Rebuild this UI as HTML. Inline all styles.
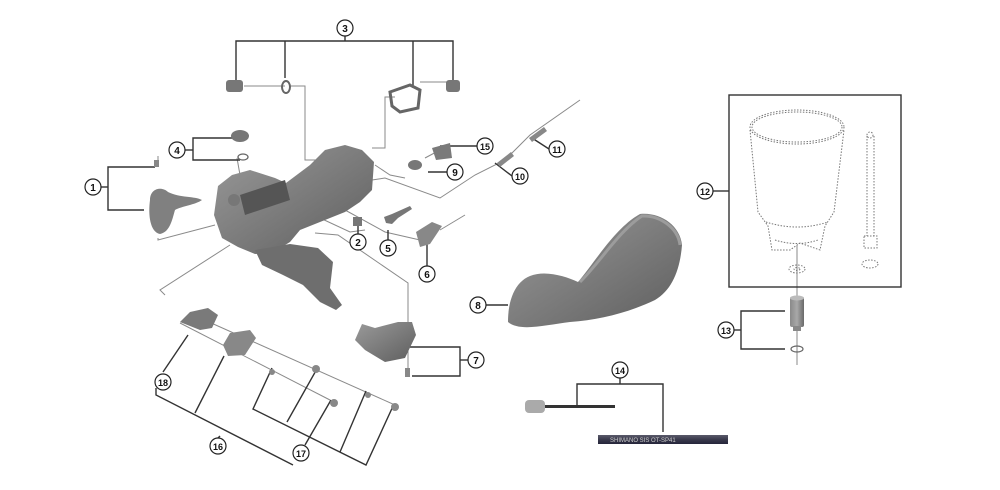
<!DOCTYPE html>
<html><head><meta charset="utf-8"><style>
html,body{margin:0;padding:0;background:#fff;}
svg{display:block;font-family:"Liberation Sans",sans-serif;}
</style></head><body>
<svg width="1000" height="490" viewBox="0 0 1000 490" xmlns="http://www.w3.org/2000/svg">
<defs>
<linearGradient id="g1" x1="0" y1="0" x2="1" y2="1"><stop offset="0" stop-color="#9a9a9a"/><stop offset="1" stop-color="#5e5e5e"/></linearGradient>
<linearGradient id="g2" x1="0" y1="0" x2="1" y2="0"><stop offset="0" stop-color="#8a8a8a"/><stop offset="0.5" stop-color="#a8a8a8"/><stop offset="1" stop-color="#6a6a6a"/></linearGradient>
<linearGradient id="g3" x1="0" y1="0" x2="0" y2="1"><stop offset="0" stop-color="#5a5a6a"/><stop offset="0.5" stop-color="#3a3a4c"/><stop offset="1" stop-color="#25253a"/></linearGradient>
</defs>
<g stroke="#8a8a8a" stroke-width="1" fill="none">
<polyline points="244,86 285,86"/>
<polyline points="290,86 305,86 305,160 320,160"/>
<polyline points="395,97 385,97 385,148 372,148"/>
<polyline points="420,82 453,82"/>
<polyline points="237,158 240,175"/>
<polyline points="158,156 158,162"/>
<polyline points="158,238 158,240 215,225"/>
<polyline points="375,165 390,175 405,178"/>
<polyline points="425,158 440,150"/>
<polyline points="372,180 385,178 440,198 475,175 505,160 530,135 580,100"/>
<polyline points="320,218 350,232 365,230"/>
<polyline points="345,210 385,232 420,240"/>
<polyline points="315,233 338,235 408,283 408,322"/>
<polyline points="408,330 408,372"/>
<polyline points="230,245 160,290 165,295"/>
<polyline points="200,318 395,405"/>
<polyline points="180,323 330,400"/>
<polyline points="440,230 465,215"/>
<polyline points="797,245 797,300"/>
<polyline points="797,330 797,365"/>
</g>
<g stroke="#333" stroke-width="1.4" fill="none">
<polyline points="345,36 345,41"/>
<polyline points="236,82 236,41 453,41 453,82"/>
<polyline points="285,41 285,78"/>
<polyline points="413,41 413,88"/>
<polyline points="101,187 108,187"/>
<polyline points="155,167 108,167 108,210 144,210"/>
<polyline points="185,150 193,150"/>
<polyline points="233,138 193,138 193,160 240,160"/>
<polyline points="477,146 440,146"/>
<polyline points="549,149 532,138"/>
<polyline points="447,172 428,172"/>
<polyline points="512,176 495,163"/>
<polyline points="358,234 358,226"/>
<polyline points="388,240 388,230"/>
<polyline points="427,266 427,244"/>
<polyline points="486,305 508,305"/>
<polyline points="468,360 460,360"/>
<polyline points="410,347 460,347 460,376 412,376"/>
<polyline points="713,191 729,191"/>
<polyline points="734,330 741,330"/>
<polyline points="785,311 741,311 741,349 785,349"/>
<polyline points="620,378 620,384"/>
<polyline points="577,405 577,384 663,384 663,432"/>
<!-- 18 -->
<polyline points="163,372 188,335"/>
<!-- 16 -->
<polyline points="156,388 156,395 293,465"/>
<polyline points="195,413 224,356"/>
<polyline points="218,438 220,436"/>
<!-- 17 -->
<polyline points="272,368 253,409 366,465 394,404"/>
<polyline points="287,422 318,367"/>
<polyline points="340,452 366,391"/>
<polyline points="305,445 331,400"/>
</g>
<rect x="729" y="95" width="172" height="192" fill="none" stroke="#333" stroke-width="1.4"/>
<g stroke="#777" stroke-width="1" stroke-dasharray="1.5,1.5" fill="none">
<ellipse cx="797" cy="127" rx="47" ry="17"/>
<ellipse cx="797" cy="127" rx="45" ry="15"/>
<path d="M750,130 L758,212 L768,226 L772,250 L790,250 L800,243 L820,250 L825,226 L834,212 L844,130"/>
<path d="M766,222 Q797,232 828,222"/>
<path d="M775,240 Q797,247 818,240"/>
<ellipse cx="797" cy="269" rx="8" ry="4"/>
<ellipse cx="797" cy="269" rx="3" ry="1.5"/>
<path d="M867,136 L867,236 M874,136 L874,236 M864,236 L877,236 L877,248 L864,248 Z"/>
<circle cx="870" cy="135" r="3"/>
<ellipse cx="870" cy="264" rx="8" ry="4"/>
</g>
<rect x="790" y="297" width="14" height="30" rx="2" fill="url(#g2)"/>
<ellipse cx="797" cy="298" rx="7" ry="2.5" fill="#bbb"/>
<rect x="793" y="326" width="8" height="5" fill="#888"/>
<ellipse cx="797" cy="349" rx="6" ry="3" fill="none" stroke="#666" stroke-width="1.2"/>
<path d="M508,322 C508,300 515,282 530,276 C545,270 565,276 578,282 C595,262 615,228 640,214 C660,212 680,225 682,245 C680,270 672,290 655,300 C630,312 600,320 570,322 C545,325 520,332 508,322 Z" fill="url(#g1)"/>
<path d="M580,282 C600,262 620,230 642,216 C660,215 678,228 680,245" fill="none" stroke="#9c9c9c" stroke-width="3"/>
<path d="M218,186 L232,175 L250,170 L275,178 L286,183 L310,165 L325,150 L345,145 L362,150 L374,162 L372,190 L360,202 L345,212 L320,222 L300,230 L290,242 L272,253 L255,254 L238,247 L222,238 L214,215 Z" fill="url(#g1)"/>
<path d="M255,250 L290,244 L318,248 L333,262 L330,288 L342,305 L336,310 L320,302 L303,285 L283,275 L262,265 Z" fill="#6e6e6e"/>
<path d="M240,195 L285,180 L290,200 L245,215 Z" fill="#555"/>
<circle cx="234" cy="200" r="6" fill="#777"/>
<path d="M150,200 C150,188 162,186 168,192 C180,198 195,196 202,200 C195,205 182,206 175,210 C172,220 170,232 160,234 C150,232 148,215 150,200 Z" fill="#808080"/>
<rect x="154" y="160" width="5" height="7" fill="#888"/>
<ellipse cx="240" cy="136" rx="9" ry="6" fill="#777"/>
<ellipse cx="243" cy="157" rx="5" ry="3" fill="none" stroke="#666" stroke-width="1.3"/>
<rect x="226" y="80" width="17" height="12" rx="3" fill="#777"/>
<ellipse cx="286" cy="87" rx="4" ry="6" fill="none" stroke="#666" stroke-width="2"/>
<path d="M390,92 L410,85 L420,90 L418,108 L400,112 L392,106 Z" fill="none" stroke="#666" stroke-width="3"/>
<rect x="446" y="80" width="14" height="12" rx="3" fill="#777"/>
<path d="M432,148 L450,143 L452,158 L436,160 Z" fill="#7a7a7a"/>
<ellipse cx="415" cy="165" rx="7" ry="5" fill="#777"/>
<path d="M497,163 L511,152 L514,156 L500,167 Z" fill="#888"/>
<path d="M529,138 L544,127 L547,131 L532,142 Z" fill="#888"/>
<rect x="353" y="217" width="9" height="9" fill="#777"/>
<path d="M384,217 L392,214 L410,206 L412,209 L398,218 L392,224 L386,223 Z" fill="#777"/>
<path d="M416,232 L432,222 L442,226 L430,244 L420,247 Z" fill="#888"/>
<path d="M355,340 L362,324 L375,328 L398,322 L412,322 L416,335 L405,358 L385,362 L365,350 Z" fill="url(#g1)"/>
<rect x="405" y="368" width="5" height="9" fill="#888"/>
<path d="M180,322 L190,312 L208,308 L218,315 L212,328 L200,330 Z" fill="#7a7a7a"/>
<path d="M223,345 L230,333 L250,330 L256,338 L245,355 L228,356 Z" fill="#888"/>
<ellipse cx="272" cy="372" rx="3" ry="3" fill="#888"/>
<ellipse cx="316" cy="369" rx="4" ry="4" fill="#888"/>
<ellipse cx="334" cy="403" rx="4" ry="4" fill="#888"/>
<ellipse cx="368" cy="395" rx="3" ry="3" fill="#888"/>
<ellipse cx="395" cy="407" rx="4" ry="4" fill="#888"/>
<rect x="525" y="400" width="20" height="13" rx="4" fill="#aaa"/>
<rect x="545" y="405" width="70" height="3" fill="#333"/>
<rect x="598" y="435" width="130" height="9" fill="url(#g3)"/>
<text x="610" y="442" font-size="6" fill="#ccc">SHIMANO SIS  OT-SP41</text>
<g fill="#fff" stroke="#222" stroke-width="1.2">
<circle cx="93" cy="187" r="8"/><circle cx="345" cy="28" r="8"/><circle cx="177" cy="150" r="8"/>
<circle cx="485" cy="146" r="8"/><circle cx="557" cy="149" r="8"/><circle cx="455" cy="172" r="8"/>
<circle cx="520" cy="176" r="8"/><circle cx="358" cy="242" r="8"/><circle cx="388" cy="248" r="8"/>
<circle cx="427" cy="274" r="8"/><circle cx="476" cy="360" r="8"/><circle cx="478" cy="305" r="8"/>
<circle cx="705" cy="191" r="8"/><circle cx="726" cy="330" r="8"/><circle cx="620" cy="370" r="8"/>
<circle cx="218" cy="446" r="8"/><circle cx="301" cy="453" r="8"/><circle cx="163" cy="382" r="8"/>
</g>
<g font-size="10" font-weight="bold" fill="#111" text-anchor="middle">
<text x="93" y="191">1</text><text x="345" y="32">3</text><text x="177" y="154">4</text>
<text x="485" y="150" font-size="9">15</text><text x="557" y="153" font-size="9">11</text><text x="455" y="176">9</text>
<text x="520" y="180" font-size="9">10</text><text x="358" y="246">2</text><text x="388" y="252">5</text>
<text x="427" y="278">6</text><text x="476" y="364">7</text><text x="478" y="309">8</text>
<text x="705" y="195" font-size="9">12</text><text x="726" y="334" font-size="9">13</text><text x="620" y="374" font-size="9">14</text>
<text x="218" y="450" font-size="9">16</text><text x="301" y="457" font-size="9">17</text><text x="163" y="386" font-size="9">18</text>
</g>
</svg>
</body></html>
